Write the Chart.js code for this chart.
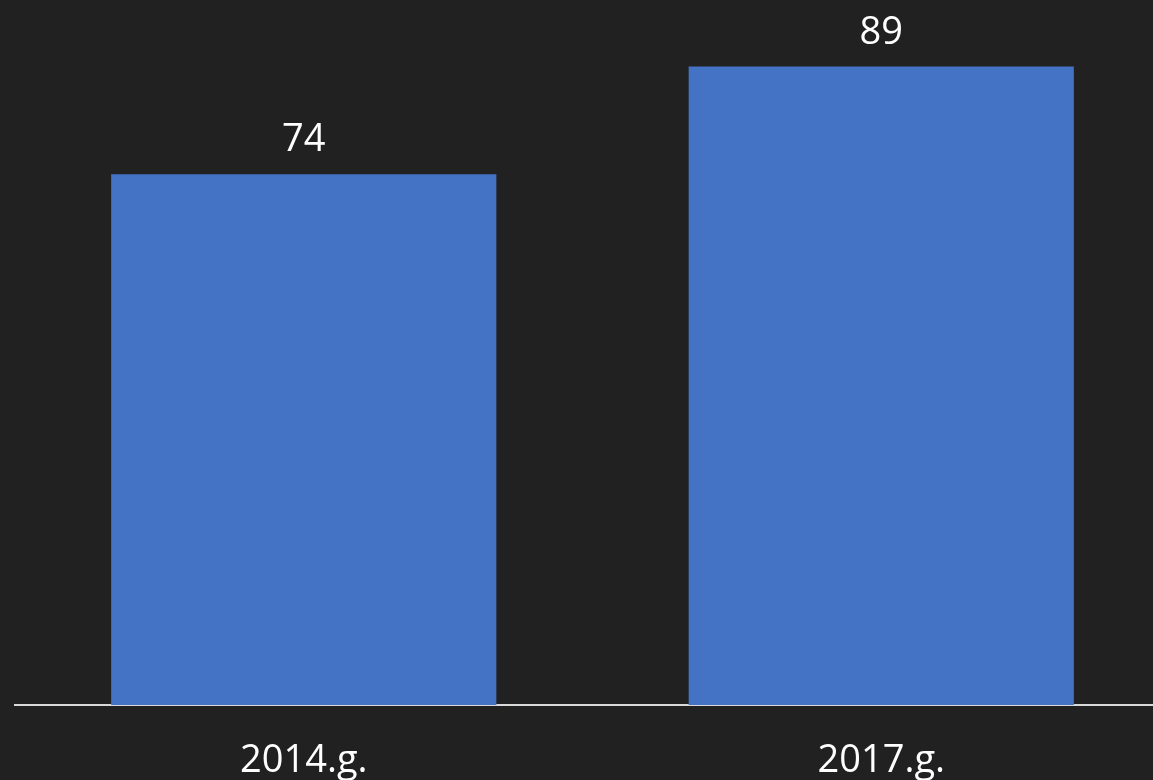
<!DOCTYPE html>
<html>
<head>
<meta charset="utf-8">
<script src="https://cdn.jsdelivr.net/npm/chart.js@4/dist/chart.umd.min.js"></script>
<style>
  html, body { margin: 0; padding: 0; background: #212121; overflow: hidden; }
  #wrap { width: 1170px; height: 780px; }
</style>
</head>
<body>
<div id="wrap"><canvas id="chart"></canvas></div>
<script>
const categories = ['2014.g.', '2017.g.'];
const values = [74, 89];

// draw the value above each bar
const valueLabels = {
    id: 'valueLabels',
    afterDatasetsDraw(chart) {
        const ctx = chart.ctx;
        const meta = chart.getDatasetMeta(0);
        ctx.save();
        ctx.fillStyle = '#ffffff';
        ctx.font = '38px "Open Sans"';
        ctx.textAlign = 'center';
        ctx.textBaseline = 'alphabetic';
        meta.data.forEach((bar, i) => {
            ctx.fillText(values[i], bar.x, bar.y - 23);
        });
        ctx.restore();
    }
};

new Chart(document.getElementById('chart'), {
    type: 'bar',
    data: {
        labels: categories,
        datasets: [{
            data: values,
            backgroundColor: '#4472C4',
            barPercentage: 0.667,
            categoryPercentage: 1
        }]
    },
    options: {
        responsive: true,
        maintainAspectRatio: false,
        animation: false,
        layout: { padding: { left: 15, right: 0, top: 2, bottom: 0 } },
        plugins: {
            legend: { display: false },
            tooltip: { enabled: false }
        },
        scales: {
            x: {
                grid: { display: false, drawTicks: false },
                border: { display: true, color: '#d9d9d9', width: 2 },
                ticks: {
                    color: '#ffffff',
                    font: { family: 'Open Sans', size: 38 },
                    padding: 33,
                    maxRotation: 0
                },
                afterFit(scale) { scale.height = 75; }
            },
            y: {
                display: false,
                min: 0,
                max: 98
            }
        }
    },
    plugins: [valueLabels]
});
</script>
</body>
</html>
